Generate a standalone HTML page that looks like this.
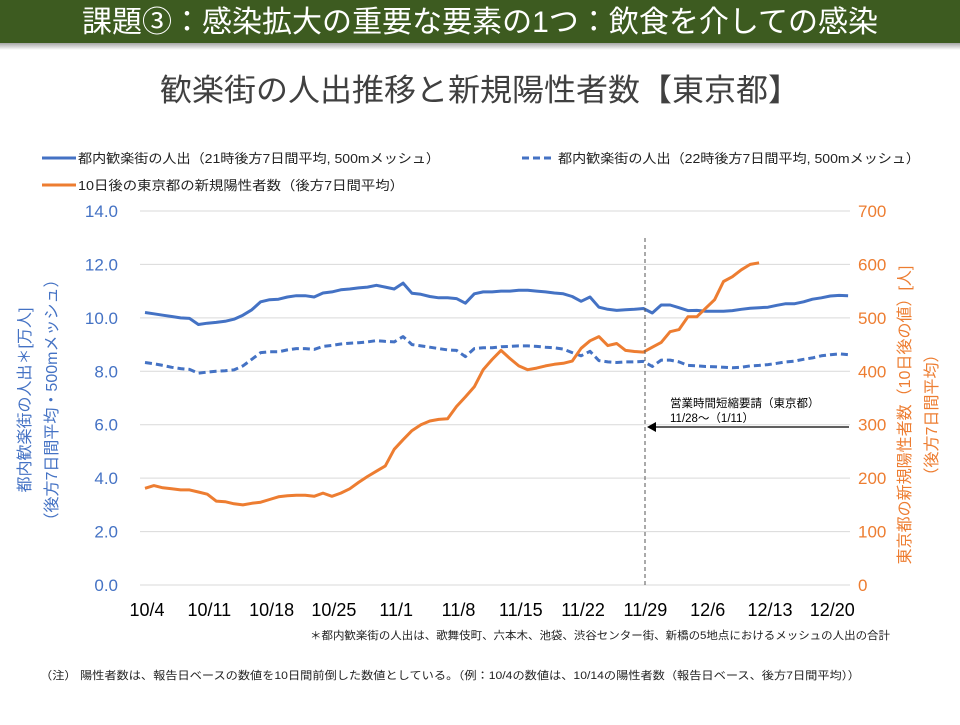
<!DOCTYPE html>
<html><head><meta charset="utf-8"><style>
body{margin:0;width:960px;height:720px;background:#fff;overflow:hidden;font-family:"Liberation Sans","Noto Sans CJK JP",sans-serif}
svg text{font-family:"Liberation Sans","Noto Sans CJK JP",sans-serif}
</style></head><body>
<svg id="c" width="960" height="720" viewBox="0 0 960 720">
<defs><linearGradient id="sh" x1="0" y1="0" x2="0" y2="1"><stop offset="0" stop-color="#999"/><stop offset="1" stop-color="#fff"/></linearGradient></defs>
<rect x="0" y="42" width="960" height="8" fill="url(#sh)"/>
<rect x="0" y="0" width="960" height="43" fill="#3d5b20"/>
<text x="82" y="32" textLength="796" lengthAdjust="spacingAndGlyphs" font-size="30" fill="#fff">課題③：感染拡大の重要な要素の1つ：飲食を介しての感染</text>
<text x="160" y="101" textLength="640" lengthAdjust="spacingAndGlyphs" font-size="31" fill="#404040">歓楽街の人出推移と新規陽性者数【東京都】</text>
<g font-size="13" fill="#222">
<line x1="42" y1="158" x2="76" y2="158" stroke="#4472c4" stroke-width="3"/>
<text x="78" y="163" textLength="362" lengthAdjust="spacingAndGlyphs">都内歓楽街の人出（21時後方7日間平均, 500mメッシュ）</text>
<line x1="522" y1="158" x2="554" y2="158" stroke="#4472c4" stroke-width="3" stroke-dasharray="7,4"/>
<text x="558" y="163" textLength="362" lengthAdjust="spacingAndGlyphs">都内歓楽街の人出（22時後方7日間平均, 500mメッシュ）</text>
<line x1="42" y1="185" x2="76" y2="185" stroke="#ed7d31" stroke-width="3"/>
<text x="78" y="190" textLength="326" lengthAdjust="spacingAndGlyphs">10日後の東京都の新規陽性者数（後方7日間平均）</text>
</g>
<g id="grid"></g><g id="axes"></g><g id="marks"></g>
<line x1="645" y1="238" x2="645" y2="585" stroke="#555" stroke-width="1" stroke-dasharray="4,3"/>
<line x1="849" y1="427" x2="655" y2="427" stroke="#000" stroke-width="1.2"/>
<polygon points="647,427 656,422 656,432" fill="#000"/>
<text x="670" y="407" font-size="11.5" fill="#000">営業時間短縮要請（東京都）</text>
<text x="670" y="422" font-size="11.5" fill="#000">11/28～（1/11）</text>
<text transform="translate(30,400) rotate(-90)" text-anchor="middle" font-size="16" fill="#4472c4">都内歓楽街の人出＊[万人]</text>
<text transform="translate(57,400) rotate(-90)" text-anchor="middle" font-size="16" fill="#4472c4">（後方7日間平均・500mメッシュ）</text>
<text transform="translate(910,415) rotate(-90)" text-anchor="middle" font-size="16" fill="#ed7d31">東京都の新規陽性者数（10日後の値）[人]</text>
<text transform="translate(937,415) rotate(-90)" text-anchor="middle" font-size="16" fill="#ed7d31">（後方7日間平均）</text>
<text x="310" y="639" textLength="580" lengthAdjust="spacingAndGlyphs" font-size="11" fill="#222">＊都内歓楽街の人出は、歌舞伎町、六本木、池袋、渋谷センター街、新橋の5地点におけるメッシュの人出の合計</text>
<text x="40" y="679" textLength="820" lengthAdjust="spacingAndGlyphs" font-size="11" fill="#222">（注） 陽性者数は、報告日ベースの数値を10日間前倒した数値としている。（例：10/4の数値は、10/14の陽性者数（報告日ベース、後方7日間平均））</text>
</svg>
<script>
const xLabels=["10/4","10/11","10/18","10/25","11/1","11/8","11/15","11/22","11/29","12/6","12/13","12/20"];
const leftTicks=[0,2,4,6,8,10,12,14];
const rightTicks=[0,100,200,300,400,500,600,700];
const people21=[10.2,10.15,10.1,10.05,10.0,9.98,9.75,9.8,9.83,9.87,9.95,10.1,10.3,10.6,10.68,10.7,10.78,10.83,10.83,10.78,10.93,10.97,11.05,11.08,11.12,11.15,11.22,11.15,11.08,11.3,10.92,10.88,10.8,10.75,10.75,10.72,10.55,10.9,10.97,10.97,11.0,11.0,11.03,11.03,11.0,10.97,10.93,10.9,10.8,10.62,10.78,10.4,10.32,10.28,10.3,10.32,10.35,10.18,10.48,10.48,10.38,10.27,10.28,10.25,10.25,10.25,10.27,10.32,10.36,10.38,10.4,10.47,10.53,10.53,10.6,10.7,10.75,10.82,10.84,10.83];
const people22=[8.33,8.28,8.22,8.15,8.1,8.07,7.93,7.97,8.0,8.02,8.05,8.2,8.45,8.7,8.73,8.73,8.8,8.85,8.85,8.82,8.93,8.97,9.02,9.05,9.07,9.1,9.15,9.12,9.1,9.3,9.0,8.95,8.9,8.85,8.8,8.78,8.55,8.85,8.88,8.88,8.92,8.93,8.95,8.95,8.93,8.9,8.88,8.83,8.7,8.58,8.75,8.4,8.35,8.33,8.35,8.35,8.37,8.18,8.42,8.42,8.35,8.22,8.2,8.18,8.17,8.15,8.13,8.15,8.2,8.22,8.25,8.3,8.35,8.38,8.45,8.5,8.58,8.62,8.65,8.62];
const positives=[181,186,182,180,178,178,174,170,157,156,152,150,153,155,160,165,167,168,168,166,172,166,172,180,192,203,213,223,254,272,289,300,307,310,311,334,352,371,403,422,439,424,410,403,406,410,413,415,419,443,457,465,448,452,439,437,436,445,454,474,478,502,502,518,534,568,577,590,600,603];
const NS='http://www.w3.org/2000/svg';
const X=i=>145+i*8.9;
const YL=v=>585-v*(374/14);
const YR=v=>585-v*(374/700);
function mk(tag,attrs,parent,txt){const e=document.createElementNS(NS,tag);for(const k in attrs)e.setAttribute(k,attrs[k]);if(txt!==undefined)e.textContent=txt;document.getElementById(parent).appendChild(e);return e;}
leftTicks.forEach(t=>{
 const g=mk('line',{x1:140,x2:850,y1:YL(t),y2:YL(t),stroke:'#d9d9d9','stroke-width':1},'grid');
 
 
 const l=mk('text',{x:118,y:YL(t)+6,'text-anchor':'end','font-size':17,fill:'#4472c4'},'axes',t.toFixed(1));
 
 
});
rightTicks.forEach(t=>{
 const l=mk('text',{x:858,y:YR(t)+6,'font-size':17,fill:'#ed7d31'},'axes',String(t));
 
 
});
xLabels.forEach((s,i)=>{
 const l=mk('text',{x:X(i*7)+2,y:616,'text-anchor':'middle','font-size':18,fill:'#000'},'axes',s);
 
 
});
function line(arr,yf,color,dash,name){
 const p=mk('polyline',{points:arr.map((v,i)=>X(i).toFixed(1)+','+yf(v).toFixed(1)).join(' '),fill:'none',stroke:color,'stroke-width':3,'stroke-linejoin':'round'},'marks');
 if(dash)p.setAttribute('stroke-dasharray',dash);
 
 
}
line(people22,YL,'#4472c4','7,4','series-22h');
line(people21,YL,'#4472c4',null,'series-21h');
line(positives,YR,'#ed7d31',null,'series-positive');
</script>
</body></html>
